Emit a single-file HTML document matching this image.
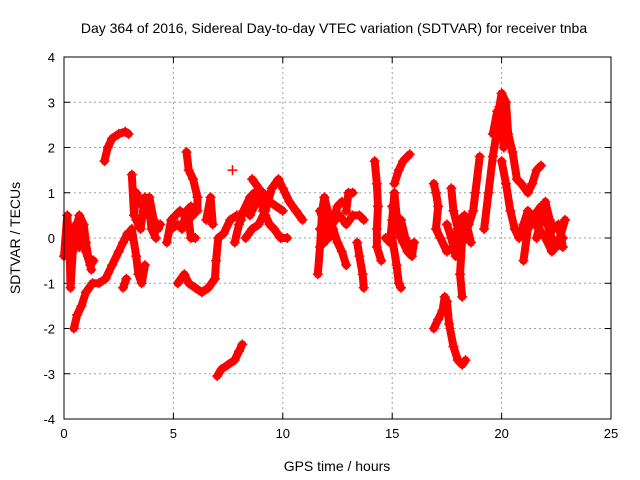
<!DOCTYPE html>
<html><head><meta charset="utf-8"><style>
body{margin:0;background:#fff}
svg{display:block;font-family:"Liberation Sans",sans-serif}
</style></head><body>
<svg id="chart" width="640" height="480">
<text x="334" y="33" font-size="14" text-anchor="middle">Day 364 of 2016, Sidereal Day-to-day VTEC variation (SDTVAR) for receiver tnba</text>
<text x="337" y="471" font-size="14" text-anchor="middle">GPS time / hours</text>
<text transform="translate(20,238) rotate(-90)" font-size="14" text-anchor="middle">SDTVAR / TECUs</text>
<g id="grid"></g><g id="ticks"></g><g id="marks"></g>
<rect x="64" y="57" width="547" height="362" fill="none" stroke="#000"/>
</svg>
<script>
const xTicks=[0,5,10,15,20,25];
const yTicks=[-4,-3,-2,-1,0,1,2,3,4];
const trackA=[[0,-0.4],[0.15,0.5],[0.25,-0.2],[0.3,-1.1],[0.4,-0.3],[0.55,0.3],[0.7,-0.2],[0.85,0.1],[1.0,-0.3],[1.2,-0.6],[1.35,-0.5]];
const trackA2=[[0.5,0.1],[0.7,0.5],[0.9,0.3],[1.0,-0.1],[1.1,-0.4],[1.25,-0.7]];
const trackB=[[0.45,-2.0],[0.6,-1.7],[0.8,-1.5],[1.0,-1.2],[1.3,-1.0],[1.6,-1.0],[1.9,-0.9],[2.2,-0.6],[2.5,-0.3],[2.7,-0.1],[2.9,0.1],[3.1,0.0]];
const trackC=[[1.85,1.7],[2.0,2.0],[2.2,2.2],[2.5,2.3],[2.8,2.35],[2.95,2.3]];
const trackD=[[3.1,1.4],[3.2,0.5],[3.3,1.0],[3.5,0.8],[3.7,0.6],[3.9,0.9],[4.1,0.4],[4.3,0.2],[4.4,0.3]];
const trackD1=[[3.3,0.4],[3.5,0.2],[3.7,0.9],[3.9,0.6],[4.0,0.2],[4.2,0.0]];
const trackD2=[[3.1,0.2],[3.3,-0.4],[3.4,-0.8],[3.55,-1.0],[3.7,-0.6]];
const trackE=[[2.7,-1.1],[2.85,-0.9]];
const trackF=[[4.7,-0.1],[4.9,0.4],[5.1,0.5],[5.3,0.6],[5.5,0.5],[5.7,0.4],[5.8,0.0],[6.0,0.0]];
const trackF2=[[4.9,0.2],[5.2,0.3],[5.4,0.2],[5.6,0.6],[5.8,0.7],[5.9,0.5]];
const trackG=[[5.6,1.9],[5.7,1.5],[5.9,1.3],[6.1,0.9],[6.1,0.6]];
const trackH=[[5.2,-1.0],[5.5,-0.8],[5.7,-1.0],[6.0,-1.1],[6.3,-1.2],[6.6,-1.1],[6.9,-0.9],[6.95,-0.5],[7.05,0.0],[7.3,0.1],[7.6,0.4],[7.9,0.5],[8.1,0.4]];
const trackI=[[6.5,0.4],[6.7,0.9],[6.8,0.3]];
const trackJ=[[7.0,-3.05],[7.2,-2.9],[7.5,-2.8],[7.8,-2.7],[8.0,-2.5],[8.15,-2.35]];
const trackK=[[7.7,1.5]];
const trackL1=[[7.8,-0.1],[8.0,0.3],[8.2,0.6],[8.5,0.9],[8.7,1.0],[9.0,0.8],[9.2,0.5],[9.4,0.3],[9.6,0.2],[9.9,0.0],[10.2,0.0]];
const trackL2=[[8.3,0.0],[8.6,0.2],[8.9,0.3],[9.2,0.6],[9.5,1.1],[9.8,1.3],[10.0,1.1],[10.3,0.8],[10.6,0.6],[10.9,0.4]];
const trackL3=[[8.6,1.3],[8.9,1.1],[9.1,0.6]];
const trackL4=[[8.5,0.5],[8.8,0.8],[9.1,1.0],[9.4,0.8],[9.7,0.7],[10.0,0.6]];
const trackM1=[[11.6,-0.8],[11.7,-0.2],[11.8,0.6],[11.9,0.9],[12.1,0.5],[12.3,0.2],[12.5,-0.1],[12.7,-0.3],[12.9,-0.6]];
const trackM2=[[11.7,0.2],[11.9,-0.1],[12.1,0.2],[12.4,0.4],[12.6,0.5],[12.9,0.3],[13.2,0.5],[13.5,0.5],[13.7,0.4]];
const trackM3=[[12.9,0.6],[13.0,1.0],[13.2,1.0]];
const trackM4=[[11.7,0.6],[11.9,0.3],[12.1,0.0],[12.3,0.4],[12.5,0.7],[12.7,0.8]];
const trackN=[[13.4,-0.1],[13.5,-0.4],[13.65,-0.8],[13.7,-1.1]];
const trackO=[[14.2,1.7],[14.3,1.2],[14.35,0.7],[14.3,0.2],[14.3,-0.2],[14.5,-0.5]];
const trackO2=[[14.7,0.0],[14.9,-0.1]];
const trackP1=[[14.9,-0.1],[15.0,0.4],[15.1,1.0],[15.2,0.5],[15.3,0.1],[15.5,-0.1],[15.7,-0.3],[15.9,-0.4],[16.0,-0.1]];
const trackP2=[[15.1,1.2],[15.3,1.5],[15.5,1.7],[15.8,1.85]];
const trackP3=[[15.0,0.0],[15.2,-0.6],[15.3,-1.0],[15.4,-1.1]];
const trackP4=[[15.0,0.7],[15.2,0.2],[15.4,0.4],[15.6,0.0],[15.8,-0.2]];
const trackQ=[[16.9,-2.0],[17.1,-1.8],[17.3,-1.6],[17.4,-1.3],[17.5,-1.4],[17.6,-1.9],[17.8,-2.4],[18.0,-2.7],[18.2,-2.8],[18.35,-2.7]];
const trackR=[[16.9,1.2],[17.0,1.0],[17.1,0.7],[17.0,0.2],[17.2,0.0],[17.5,-0.3],[17.8,-0.2],[18.0,0.2],[18.2,0.0],[18.1,-0.8],[18.2,-1.3]];
const trackS=[[17.7,1.1],[17.8,0.6],[18.0,0.2],[18.2,-0.1],[18.5,0.3],[18.7,0.6],[18.8,1.0],[19.0,1.8]];
const trackS2=[[17.5,0.3],[17.7,0.0],[17.9,-0.4],[18.1,0.4],[18.3,0.5],[18.6,-0.1]];
const trackT=[[19.2,0.2],[19.4,1.0],[19.6,1.8],[19.8,2.4],[19.9,2.9],[20.0,3.2],[20.2,3.0],[20.3,2.3],[20.5,1.9],[20.7,1.3],[20.9,1.2],[21.2,1.0],[21.4,1.2],[21.6,1.5],[21.8,1.6]];
const trackT2=[[19.6,2.3],[19.8,2.8],[20.0,2.6],[20.1,2.0]];
const trackU=[[20.0,1.7],[20.2,1.2],[20.4,0.6],[20.6,0.2],[20.8,0.0],[21.0,0.3],[21.2,0.6],[21.4,0.4],[21.7,0.2],[22.0,0.0],[22.3,-0.3],[22.6,-0.1],[22.9,0.4]];
const trackV=[[21.0,-0.5],[21.2,0.2],[21.5,0.5],[21.8,0.7],[22.0,0.5],[22.2,0.1],[22.5,-0.2],[22.8,0.0]];
const trackV2=[[21.6,0.0],[21.8,0.4],[22.0,0.8],[22.2,0.4],[22.4,0.2],[22.6,0.3],[22.8,-0.2]];
const tracks=[trackA,trackA2,trackB,trackC,trackD,trackD1,trackD2,trackE,trackF,trackF2,trackG,trackH,trackI,trackJ,trackK,trackL1,trackL2,trackL3,trackL4,trackM1,trackM2,trackM3,trackM4,trackN,trackO,trackO2,trackP1,trackP2,trackP3,trackP4,trackQ,trackR,trackS,trackS2,trackT,trackT2,trackU,trackV,trackV2];
const NS="http://www.w3.org/2000/svg";
const X0=64,X1=611,Y0=419,Y1=57;
function sx(h){return X0+(h-0)/(25-0)*(X1-X0);}
function sy(v){return Y0-(v+4)/8*(Y0-Y1);}
function mk(t,a){const e=document.createElementNS(NS,t);for(const k in a)e.setAttribute(k,a[k]);return e;}
const grid=document.getElementById('grid'),ticks=document.getElementById('ticks'),marks=document.getElementById('marks');
xTicks.forEach(t=>{const x=sx(t);
 if(t>0&&t<25){const g=mk('line',{x1:x,y1:Y0,x2:x,y2:Y1,stroke:'#a0a0a0','stroke-dasharray':'2,3'});
 
 grid.appendChild(g);}
 ticks.appendChild(mk('line',{x1:x,y1:Y0,x2:x,y2:Y0-6,stroke:'#000'}));
 ticks.appendChild(mk('line',{x1:x,y1:Y1,x2:x,y2:Y1+6,stroke:'#000'}));
 const l=mk('text',{x:x,y:Y0+19,'font-size':13,'text-anchor':'middle'});l.textContent=t;
 
 ticks.appendChild(l);});
yTicks.forEach(t=>{const y=sy(t);
 if(t>-4&&t<4){const g=mk('line',{x1:X0,y1:y,x2:X1,y2:y,stroke:'#a0a0a0','stroke-dasharray':'2,3'});
 
 grid.appendChild(g);}
 ticks.appendChild(mk('line',{x1:X0,y1:y,x2:X0+6,y2:y,stroke:'#000'}));
 ticks.appendChild(mk('line',{x1:X1,y1:y,x2:X1-6,y2:y,stroke:'#000'}));
 const l=mk('text',{x:X0-9,y:y+5,'font-size':13,'text-anchor':'end'});l.textContent=t;
 
 ticks.appendChild(l);});
tracks.forEach(tr=>{
 const pts=tr.map(p=>sx(p[0])+','+sy(p[1])).join(' ');
 const pl=mk('polyline',{points:pts,fill:'none',stroke:'#f00','stroke-width':8,'stroke-linejoin':'round','stroke-linecap':'round'});
 
 marks.appendChild(pl);
 tr.forEach(p=>{const x=sx(p[0]),y=sy(p[1]);
  const m=mk('path',{d:`M${x-5},${y}H${x+5}M${x},${y-5}V${y+5}`,stroke:'#f00','stroke-width':1.5});
  
  marks.appendChild(m);});
});
</script>
</body></html>
